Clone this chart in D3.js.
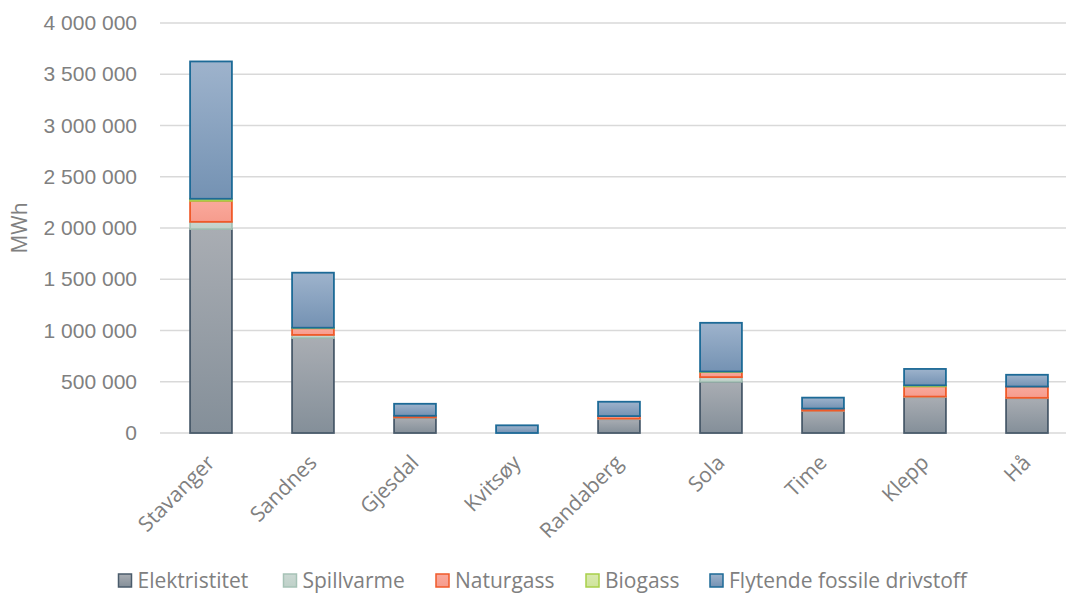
<!DOCTYPE html>
<html>
<head>
<meta charset="utf-8">
<script src="https://cdn.jsdelivr.net/npm/d3@7"></script>
<style>
  body { margin: 0; background: #fff; }
  svg { font-family: "Open Sans", sans-serif; }
  .tick text { fill: #808080; }
</style>
</head>
<body>
<svg width="1066" height="594"></svg>
<script>
const municipalities = ["Stavanger", "Sandnes", "Gjesdal", "Kvitsøy", "Randaberg", "Sola", "Time", "Klepp", "Hå"];
const elektrisitet = [1990000, 927000, 150000, 0, 135000, 500000, 215000, 350000, 340000];
const spillvarme   = [70000, 30000, 3000, 0, 5000, 45000, 3000, 5000, 3000];
const naturgass    = [205000, 65000, 15000, 0, 25000, 50000, 20000, 100000, 110000];
const biogass      = [20000, 5000, 0, 0, 0, 5000, 0, 10000, 0];
const flytende     = [1340000, 537000, 117000, 75000, 140000, 475000, 107000, 160000, 115000];
const yTicks = [0, 500000, 1000000, 1500000, 2000000, 2500000, 3000000, 3500000, 4000000];

const series = [
  { key: "Elektristitet", values: elektrisitet, top: "#a9adb3", bottom: "#848f99", stroke: "#4a5b6b" },
  { key: "Spillvarme", values: spillvarme, top: "#cad8d2", bottom: "#bfd1c9", stroke: "#a6c2b6" },
  { key: "Naturgass", values: naturgass, top: "#faa99c", bottom: "#f69c8d", stroke: "#f05a2a" },
  { key: "Biogass", values: biogass, top: "#d9eaaf", bottom: "#cfe49c", stroke: "#a8cf4a" },
  { key: "Flytende fossile drivstoff", values: flytende, top: "#9eb3cc", bottom: "#7492b3", stroke: "#1d6a97" }
];

const svg = d3.select("svg");
const defs = svg.append("defs");
series.forEach((s, i) => {
  const g = defs.append("linearGradient").attr("id", "grad" + i)
    .attr("x1", 0).attr("y1", 0).attr("x2", 0).attr("y2", 1);
  g.append("stop").attr("offset", "0%").attr("stop-color", s.top);
  g.append("stop").attr("offset", "100%").attr("stop-color", s.bottom);
});

const x = d3.scaleBand()
  .domain(municipalities)
  .range([160, 1078])
  .paddingInner(0.59)
  .paddingOuter(0.295);

const y = d3.scaleLinear()
  .domain([0, 4000000])
  .range([433, 23]);

const fmt = v => d3.format(",")(v).replace(/,/g, " ");

// gridlines
svg.append("g")
  .selectAll("line")
  .data(yTicks)
  .enter()
  .append("line")
  .attr("x1", 160).attr("x2", 1066)
  .attr("y1", d => y(d)).attr("y2", d => y(d))
  .attr("stroke", "#d9d9d9")
  .attr("stroke-width", 1.5);

const yAxis = svg.append("g")
  .attr("transform", "translate(160,0)")
  .call(d3.axisLeft(y).tickValues(yTicks).tickFormat(fmt).tickSize(0).tickPadding(23));
yAxis.select(".domain").remove();
yAxis.selectAll("text").style("font-size", "21px");

svg.append("text")
  .attr("transform", "translate(20,228) rotate(-90)")
  .attr("text-anchor", "middle")
  .attr("dy", "0.35em")
  .attr("fill", "#808080")
  .style("font-size", "21px")
  .text("MWh");

// stacked data
const rows = municipalities.map((m, i) => {
  const r = { name: m };
  series.forEach(s => r[s.key] = s.values[i]);
  return r;
});
const stack = d3.stack().keys(series.map(s => s.key))(rows);

stack.forEach((layer, si) => {
  const s = series[si];
  svg.append("g")
    .selectAll("rect")
    .data(layer.filter(d => d[1] - d[0] > 0))
    .enter()
    .append("rect")
    .attr("x", d => x(d.data.name))
    .attr("y", d => y(d[1]))
    .attr("width", x.bandwidth())
    .attr("height", d => y(d[0]) - y(d[1]))
    .attr("fill", `url(#grad${si})`)
    .attr("stroke", s.stroke)
    .attr("stroke-width", 1.8);
});

// x labels
svg.append("g")
  .selectAll("text")
  .data(municipalities)
  .enter()
  .append("text")
  .attr("transform", d => `translate(${x(d) + x.bandwidth() / 2 + 5},${464}) rotate(-45)`)
  .attr("text-anchor", "end")
  .attr("fill", "#808080")
  .style("font-size", "21px")
  .text(d => d);

// legend
const legendX = [118.5, 283.5, 436, 586, 710];
const legend = svg.append("g")
  .selectAll("g")
  .data(series)
  .enter()
  .append("g")
  .attr("transform", (d, i) => `translate(${legendX[i]},574)`);
legend.append("rect")
  .attr("width", 13).attr("height", 13)
  .attr("fill", (d, i) => `url(#grad${i})`)
  .attr("stroke", d => d.stroke)
  .attr("stroke-width", 1.5);
legend.append("text")
  .attr("x", 19).attr("y", 6.5)
  .attr("dy", "0.35em")
  .attr("fill", "#808080")
  .style("font-size", "21px")
  .text(d => d.key);
</script>
</body>
</html>
